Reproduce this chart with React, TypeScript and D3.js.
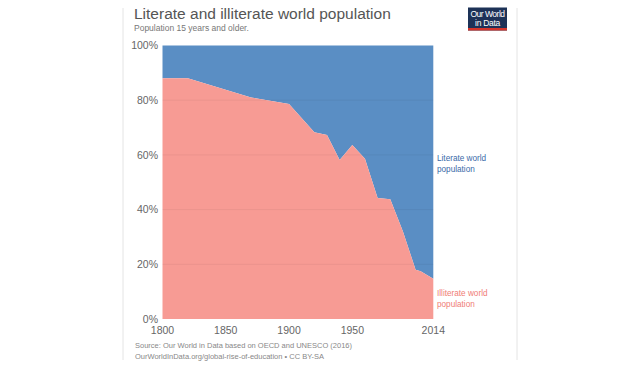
import React from "react";
import * as d3 from "d3";

const years = [1800, 1820, 1870, 1900, 1920, 1930, 1940, 1950, 1960, 1970, 1980, 1990, 2000, 2004, 2014];
const illiterate = [88, 88, 81, 78.6, 68.3, 67.3, 58.1, 63.6, 58.6, 44.2, 43.8, 32, 18, 17.5, 14.7];
const literate = illiterate.map((v) => 100 - v);
const yTicks = [0, 20, 40, 60, 80, 100];
const xTicks = [1800, 1850, 1900, 1950, 2014];

const W = 640;
const H = 368;
const FONT = "'Liberation Sans', Arial, Helvetica, sans-serif";
const BLUE = "#5a8ec4";
const PINK = "#f79b94";

export default function App() {
  const x = d3.scaleLinear().domain([1800, 2014]).range([162.5, 433.3]);
  const y = d3.scaleLinear().domain([0, 100]).range([319, 45.5]);
  const rows = years.map((yr, i) => ({ yr, ill: illiterate[i], lit: literate[i] }));

  const illArea = d3
    .area<{ yr: number; ill: number; lit: number }>()
    .x((d) => x(d.yr))
    .y0(() => y(0))
    .y1((d) => y(d.ill));
  const litArea = d3
    .area<{ yr: number; ill: number; lit: number }>()
    .x((d) => x(d.yr))
    .y0((d) => y(d.ill))
    .y1((d) => y(d.ill + d.lit));

  return (
    <svg
      width={W}
      height={H}
      style={{ position: "fixed", left: 0, top: 0, background: "#fff" }}
      fontFamily={FONT}
    >
      <line x1={123} x2={123} y1={8} y2={360} stroke="#e4e4e4" />
      <line x1={517} x2={517} y1={8} y2={360} stroke="#e4e4e4" />

      <text x={134} y={19} fontSize={15.5} fill="#555" fontWeight={300}>
        Literate and illiterate world population
      </text>
      <text x={134} y={31} fontSize={8.5} fill="#777">
        Population 15 years and older.
      </text>

      <g>
        <rect x={468} y={7.5} width={39} height={23} fill="#1d3257" />
        <rect x={468} y={28} width={39} height={2.5} fill="#d4352b" />
        <text x={487.5} y={16.5} fontSize={8.5} fill="#fff" textAnchor="middle" letterSpacing={-0.5}>
          Our World
        </text>
        <text x={487.5} y={25.5} fontSize={8.5} fill="#fff" textAnchor="middle" letterSpacing={-0.3}>
          in Data
        </text>
      </g>

      <path d={litArea(rows) || ""} fill={BLUE} />
      <path d={illArea(rows) || ""} fill={PINK} />

      {yTicks.map((t) => (
        <g key={t}>
          {t > 0 && t < 100 && (
            <line x1={x(1800)} x2={x(2014)} y1={y(t)} y2={y(t)} stroke="#000" strokeOpacity={0.05} />
          )}
          <text x={158} y={y(t)} dy="0.35em" fontSize={10.5} fill="#666" textAnchor="end">
            {t}%
          </text>
        </g>
      ))}

      {xTicks.map((t) => (
        <text key={t} x={x(t)} y={333.5} fontSize={10.5} fill="#666" textAnchor="middle">
          {t}
        </text>
      ))}

      <text x={437} y={161} fontSize={8.2} fill="#3a6aa8">
        <tspan x={437}>Literate world</tspan>
        <tspan x={437} dy={10.5}>population</tspan>
      </text>
      <text x={437} y={296} fontSize={8.2} fill="#ef7d76">
        <tspan x={437}>Illiterate world</tspan>
        <tspan x={437} dy={10.5}>population</tspan>
      </text>

      <text x={135} y={348} fontSize={7.5} fill="#888">
        Source: Our World in Data based on OECD and UNESCO (2016)
      </text>
      <text x={135} y={358.5} fontSize={7.5} fill="#888">
        OurWorldInData.org/global-rise-of-education • CC BY-SA
      </text>
    </svg>
  );
}
